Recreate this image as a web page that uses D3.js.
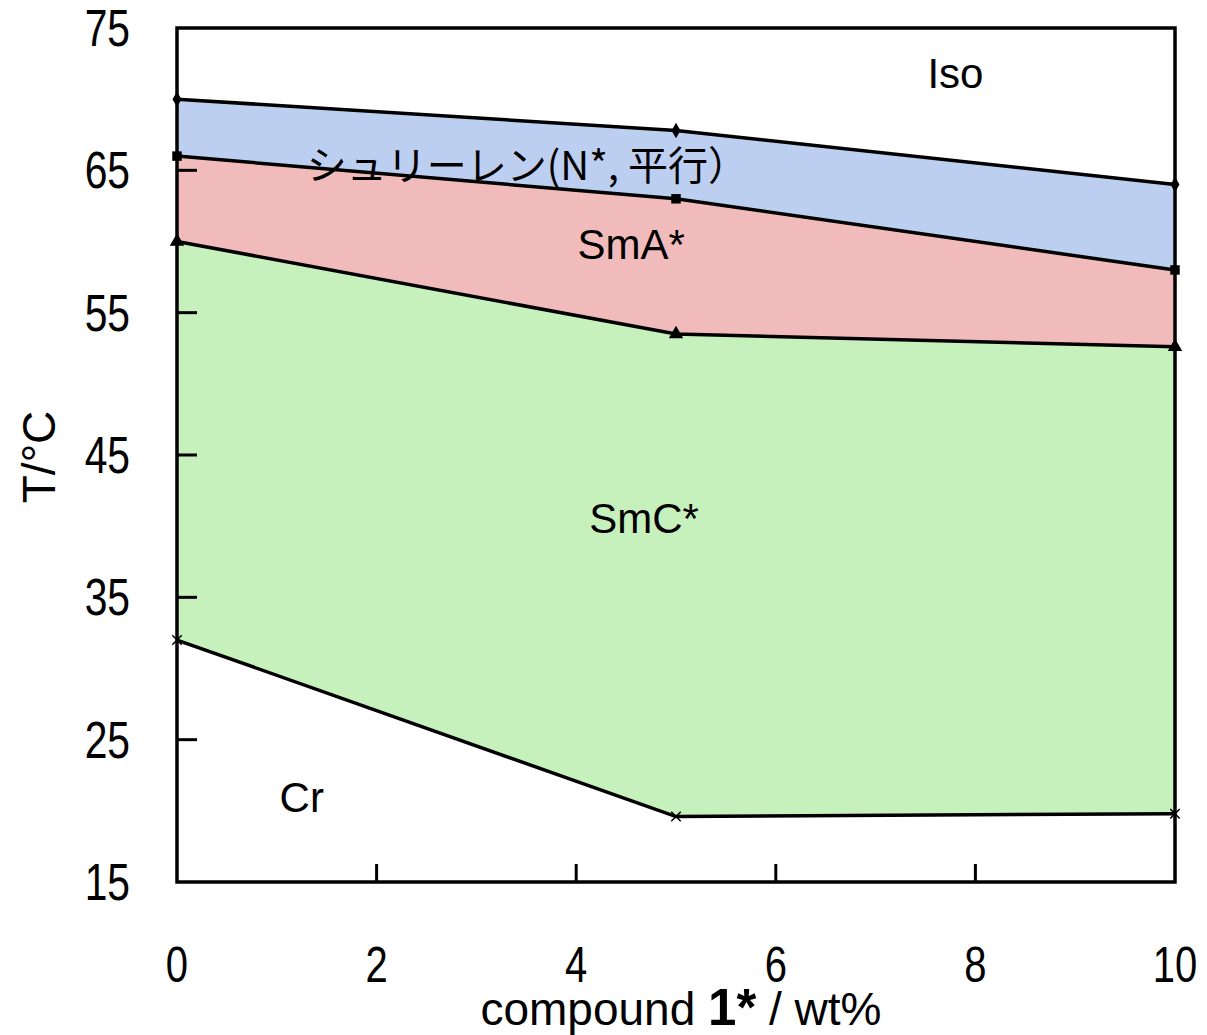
<!DOCTYPE html>
<html>
<head>
<meta charset="utf-8">
<script src="https://cdn.jsdelivr.net/npm/d3@7"></script>
<style>
  body { margin: 0; background: #fff; }
  text { font-family: "Liberation Sans", Arial, sans-serif; fill: #000; }
</style>
</head>
<body>
<div id="chart"></div>
<script>
// phase diagram data
var conc = [0, 5, 10];
var isoLine = [70.0, 67.8, 64.0];     // Iso / N*
var smaLine = [66.0, 63.0, 58.0];     // N* / SmA*
var smcLine = [60.0, 53.5, 52.6];     // SmA* / SmC*
var crLine  = [32.0, 19.6, 19.8];     // SmC* / Cr
var xTicks = [0, 2, 4, 6, 8, 10];
var yTicks = [15, 25, 35, 45, 55, 65, 75];

var width = 1207, height = 1035;
var margin = {left: 177, right: 32, top: 28, bottom: 153};
var W = width - margin.left - margin.right, H = height - margin.top - margin.bottom;

var svg = d3.select("#chart").append("svg")
            .attr("width", width).attr("height", height);
var g = svg.append("g").attr("transform", "translate(" + margin.left + "," + margin.top + ")");

var x = d3.scaleLinear().domain([0, 10]).range([0, W]);
var y = d3.scaleLinear().domain([15, 75]).range([H, 0]);

function rows(arr){ return conc.map(function(c, i){ return {c: c, v: arr[i]}; }); }

//fill a band between two boundary lines
function band(top, bottom, color){
    var d = conc.map(function(c, i){ return {c: c, hi: top[i], lo: bottom[i]}; });
    var area = d3.area()
                 .x(function(d){ return x(d.c); })
                 .y0(function(d){ return y(d.lo); })
                 .y1(function(d){ return y(d.hi); });
    g.append("path").attr("d", area(d)).attr("fill", color);
}
band(isoLine, smaLine, "#bccff0");
band(smaLine, smcLine, "#f2bbbb");
band(smcLine, crLine, "#c7f1bc");

var line = d3.line().x(function(d){ return x(d.c); }).y(function(d){ return y(d.v); });
[isoLine, smaLine, smcLine, crLine].forEach(function(arr){
    g.append("path").attr("d", line(rows(arr)))
     .attr("fill", "none").attr("stroke", "#000").attr("stroke-width", 3.5);
});

// markers
var sym = [d3.symbolDiamond, d3.symbolSquare, d3.symbolTriangle, d3.symbolX];
var sizes = [70, 90, 90, 60];
[isoLine, smaLine, smcLine, crLine].forEach(function(arr, k){
    g.append("g").selectAll("path").data(rows(arr)).enter().append("path")
     .attr("transform", function(d){ return "translate(" + x(d.c) + "," + y(d.v) + ")"; })
     .attr("d", d3.symbol().type(sym[k]).size(sizes[k]))
     .attr("fill", k == 3 ? "none" : "#000")
     .attr("stroke", "#000").attr("stroke-width", k == 3 ? 1.5 : 0);
});

// frame
g.append("rect").attr("width", W).attr("height", H)
 .attr("fill", "none").attr("stroke", "#000").attr("stroke-width", 3.5);

// inner ticks
g.append("g").selectAll("line").data(yTicks.slice(1, -1)).enter().append("line")
 .attr("x1", 0).attr("x2", 20).attr("y1", function(d){ return y(d); }).attr("y2", function(d){ return y(d); })
 .attr("stroke", "#000").attr("stroke-width", 3);
g.append("g").selectAll("line").data(xTicks.slice(1, -1)).enter().append("line")
 .attr("x1", function(d){ return x(d); }).attr("x2", function(d){ return x(d); })
 .attr("y1", H).attr("y2", H - 18)
 .attr("stroke", "#000").attr("stroke-width", 3);

// tick labels (narrow digits)
g.append("g").selectAll("text").data(yTicks).enter().append("text")
 .attr("transform", function(d){ return "translate(-47," + (y(d) + 18) + ") scale(0.8,1)"; })
 .attr("text-anchor", "end").attr("font-size", 51)
 .text(function(d){ return d; });
g.append("g").selectAll("text").data(xTicks).enter().append("text")
 .attr("transform", function(d){ return "translate(" + x(d) + "," + (H + 100) + ") scale(0.8,1)"; })
 .attr("text-anchor", "middle").attr("font-size", 50)
 .text(function(d){ return d; });

// axis titles
var xt = svg.append("text").attr("x", 681).attr("y", 1025).attr("text-anchor", "middle").attr("font-size", 46);
xt.append("tspan").text("compound ");
xt.append("tspan").attr("font-weight", "bold").attr("font-size", 51).text("1*");
xt.append("tspan").text(" / wt%");

svg.append("text").attr("transform", "translate(55,457) rotate(-90)")
   .attr("text-anchor", "middle").attr("font-size", 46).text("T/°C");

// phase labels
var labels = [
    {t: "Iso", c: 7.8, v: 70.8, a: "middle"},
    {t: "シュリーレン(N*, 平行）", c: 1.3, v: 64.3, a: "start"},
    {t: "SmA*", c: 4.55, v: 58.8, a: "middle"},
    {t: "SmC*", c: 4.68, v: 39.5, a: "middle"},
    {t: "Cr", c: 1.25, v: 19.9, a: "middle"}
];
g.append("g").selectAll("text").data(labels).enter().append("text")
 .attr("x", function(d){ return x(d.c); }).attr("y", function(d){ return y(d.v); })
 .attr("text-anchor", function(d){ return d.a; })
 .attr("font-size", function(d){ return d.a == "start" ? 40 : 42; })
 .style("font-family", function(d){ return d.a == "start" ? "'Noto Sans CJK JP', sans-serif" : null; })
 .text(function(d){ return d.t; });
</script>
</body>
</html>
